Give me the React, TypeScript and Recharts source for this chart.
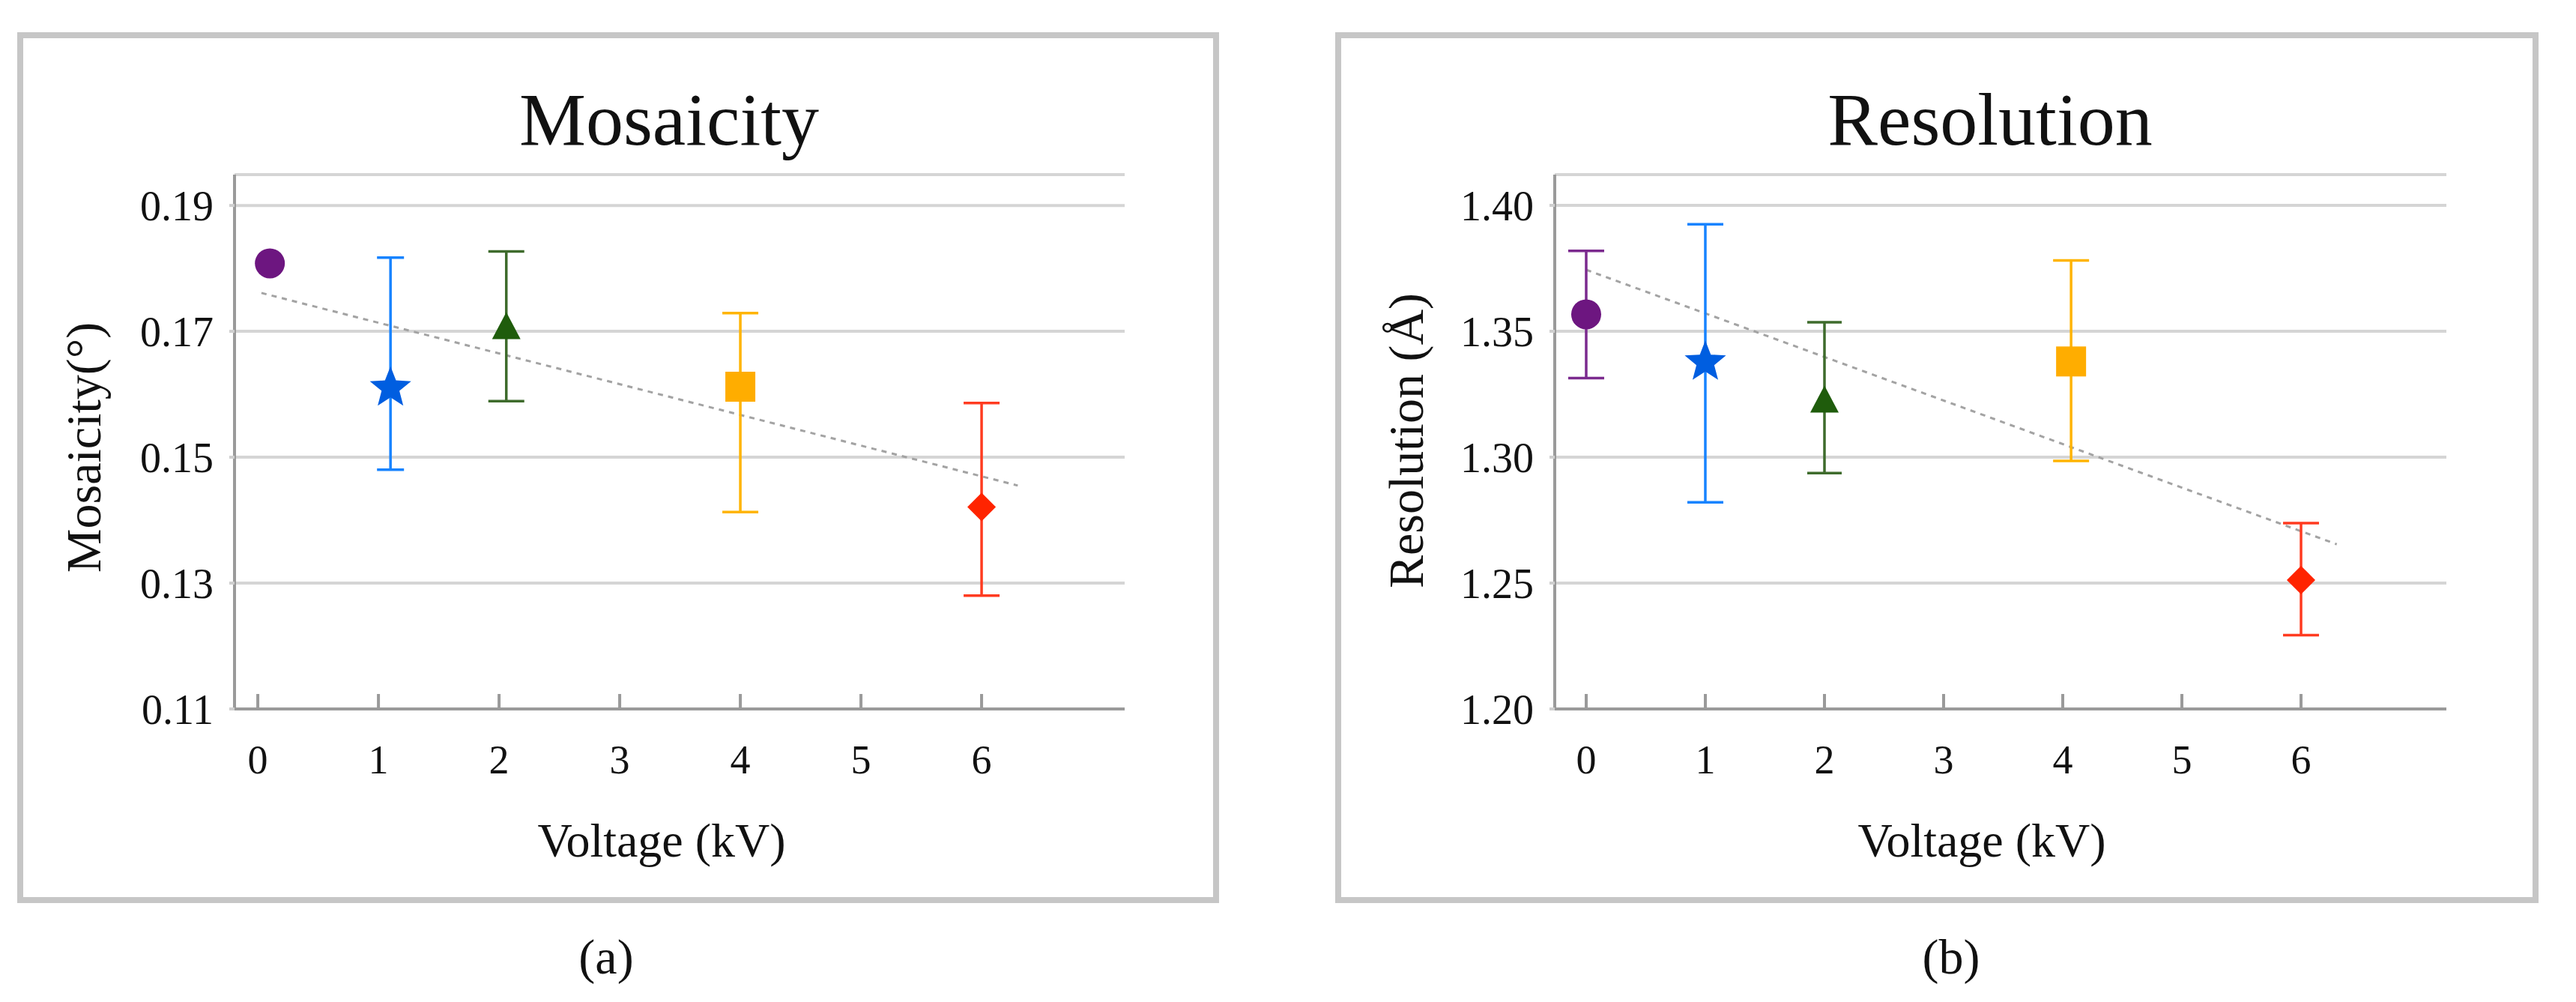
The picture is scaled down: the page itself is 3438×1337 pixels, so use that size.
import React from 'react';
import { ScatterChart, Scatter, XAxis, YAxis, CartesianGrid, ErrorBar, ReferenceLine } from 'recharts';

const FONT = "'Liberation Serif', 'Times New Roman', serif";

const voltageTicks = [0, 1, 2, 3, 4, 5, 6];

// (a) mosaicity, degrees
const mosaicityX = [0.1, 1.1, 2.06, 4, 6];
const mosaicityValues = [0.1808, 0.161, 0.1709, 0.1612, 0.1421];
const mosaicityLow = [null, 0.148, 0.1589, 0.1413, 0.128];
const mosaicityHigh = [null, 0.1817, 0.1827, 0.1729, 0.1586];
const mosaicityTicks = [0.11, 0.13, 0.15, 0.17, 0.19];
const mosaicityTrend = [
  { x: 0.03, y: 0.1761 },
  { x: 6.3, y: 0.1455 },
];

// (b) resolution, angstrom
const resolutionX = [0, 1, 2, 4.07, 6];
const resolutionValues = [1.3567, 1.3377, 1.3231, 1.338, 1.2512];
const resolutionLow = [1.3314, 1.2821, 1.2937, 1.2985, 1.2293];
const resolutionHigh = [1.3819, 1.3925, 1.3536, 1.3781, 1.2738];
const resolutionTicks = [1.2, 1.25, 1.3, 1.35, 1.4];
const resolutionTrend = [
  { x: 0, y: 1.3744 },
  { x: 6.3, y: 1.2654 },
];

const markers = [
  { kind: 'circle', fill: '#6d1680', bar: '#7b2a8e' },
  { kind: 'star', fill: '#005ee0', bar: '#1783ff' },
  { kind: 'triangle', fill: '#1f5c0c', bar: '#3e6b2c' },
  { kind: 'square', fill: '#ffad00', bar: '#ffb400' },
  { kind: 'diamond', fill: '#ff2400', bar: '#ff3b20' },
];

const starPath = (cx: number, cy: number, R: number, r: number) => {
  const pts: string[] = [];
  for (let i = 0; i < 10; i++) {
    const rad = i % 2 === 0 ? R : r;
    const a = -Math.PI / 2 + (i * Math.PI) / 5;
    pts.push(`${cx + rad * Math.cos(a)},${cy + rad * Math.sin(a)}`);
  }
  return pts.join(' ');
};

const makeShape = (kind: string, fill: string) => (props: any) => {
  const { cx, cy } = props;
  if (cx == null || cy == null) return <g />;
  switch (kind) {
    case 'circle':
      return <circle cx={cx} cy={cy} r={20} fill={fill} />;
    case 'star':
      return <polygon points={starPath(cx, cy, 29, 12.5)} fill={fill} />;
    case 'triangle':
      return <polygon points={`${cx},${cy - 18} ${cx + 19},${cy + 18} ${cx - 19},${cy + 18}`} fill={fill} />;
    case 'square':
      return <rect x={cx - 20} y={cy - 20} width={40} height={40} fill={fill} />;
    default:
      return <polygon points={`${cx},${cy - 19} ${cx + 19},${cy} ${cx},${cy + 19} ${cx - 19},${cy}`} fill={fill} />;
  }
};

const VoltageTick = (props: any) => {
  const { x, y, payload } = props;
  return (
    <g>
      <line x1={x} x2={x} y1={y} y2={y - 20} stroke="#9a9a9a" strokeWidth={4} />
      <text x={x} y={y + 86} textAnchor="middle" fontSize={54} fontFamily={FONT} fill="#111">
        {payload.value}
      </text>
    </g>
  );
};

interface PanelProps {
  left: number;
  width: number;
  yAxisWidth: number;
  marginRight: number;
  xs: number[];
  values: number[];
  lows: (number | null)[];
  highs: (number | null)[];
  ticks: number[];
  yDomain: [number, number];
  xDomain: [number, number];
  trend: { x: number; y: number }[];
  capWidths: number[];
}

const TOP = 43;
const HEIGHT = 1162;

const Panel: React.FC<PanelProps> = (p) => {
  return (
    <div style={{ position: 'absolute', left: p.left, top: TOP }}>
      <ScatterChart
        width={p.width}
        height={HEIGHT}
        margin={{ top: 190, right: p.marginRight, bottom: 0, left: 0 }}
      >
        <CartesianGrid vertical={false} stroke="#d5d5d5" strokeWidth={4} />
        <XAxis
          type="number"
          dataKey="x"
          domain={p.xDomain}
          ticks={voltageTicks}
          interval={0}
          allowDataOverflow
          height={HEIGHT - 190 - (946 - 233)}
          axisLine={{ stroke: '#9a9a9a', strokeWidth: 4 }}
          tickLine={false}
          tickSize={0}
          tickMargin={0}
          tick={<VoltageTick />}
        />
        <YAxis
          type="number"
          dataKey="y"
          domain={p.yDomain}
          ticks={p.ticks}
          interval={0}
          allowDataOverflow
          width={p.yAxisWidth}
          axisLine={{ stroke: '#9a9a9a', strokeWidth: 4 }}
          tickLine={{ stroke: '#cfcfcf', strokeWidth: 4 }}
          tickSize={7}
          tickMargin={21}
          tickFormatter={(v: number) => v.toFixed(2)}
          tick={{ fontSize: 56, fontFamily: FONT, fill: '#111' }}
        />
        <ReferenceLine
          segment={p.trend}
          stroke="#a3a3a3"
          strokeWidth={3}
          strokeDasharray="7 7"
          ifOverflow="visible"
        />
        {markers.map((m, i) => {
          const lo = p.lows[i];
          const hi = p.highs[i];
          const row = {
            x: p.xs[i],
            y: p.values[i],
            err: lo == null || hi == null ? null : [p.values[i] - lo, hi - p.values[i]],
          };
          return (
            <Scatter
              key={m.kind}
              data={[row]}
              fill={m.fill}
              shape={makeShape(m.kind, m.fill)}
              isAnimationActive={false}
            >
              {row.err && (
                <ErrorBar
                  dataKey="err"
                  direction="y"
                  width={p.capWidths[i]}
                  stroke={m.bar}
                  strokeWidth={3.5}
                  isAnimationActive={false}
                />
              )}
            </Scatter>
          );
        })}
      </ScatterChart>
    </div>
  );
};

const Frame = ({ x, w }: { x: number; w: number }) => (
  <rect x={x + 4} y={TOP + 4} width={w - 8} height={HEIGHT - 8} fill="none" stroke="#c6c6c6" strokeWidth={8} />
);

export default function App() {
  return (
    <div style={{ position: 'absolute', left: 0, top: 0, width: 3438, height: 1337, background: '#fff' }}>
      <svg width={3438} height={1337} style={{ position: 'absolute', left: 0, top: 0 }}>
        <Frame x={23} w={1604} />
        <Frame x={1782} w={1606} />
        <g fontFamily={FONT} fill="#111">
          <text x={893} y={193} fontSize={100} textAnchor="middle">Mosaicity</text>
          <text x={2656} y={193} fontSize={100} textAnchor="middle">Resolution</text>
          <text x={883} y={1143} fontSize={64} textAnchor="middle">Voltage (kV)</text>
          <text x={2645} y={1143} fontSize={64} textAnchor="middle">Voltage (kV)</text>
          <text
            x={111}
            y={597}
            fontSize={66}
            textAnchor="middle"
            dominantBaseline="central"
            transform="rotate(-90 111 597)"
          >
            Mosaicity(°)
          </text>
          <text
            x={1876}
            y={588}
            fontSize={66}
            textAnchor="middle"
            dominantBaseline="central"
            transform="rotate(-90 1876 588)"
          >
            Resolution (Å)
          </text>
          <text x={809} y={1276} fontSize={66} textAnchor="middle" dominantBaseline="central">(a)</text>
          <text x={2604} y={1276} fontSize={66} textAnchor="middle" dominantBaseline="central">(b)</text>
        </g>
      </svg>
      <Panel
        left={23}
        width={1604}
        yAxisWidth={290}
        marginRight={126}
        xs={mosaicityX}
        values={mosaicityValues}
        lows={mosaicityLow}
        highs={mosaicityHigh}
        ticks={mosaicityTicks}
        yDomain={[0.11, 0.1949]}
        xDomain={[-0.193, 7.186]}
        trend={mosaicityTrend}
        capWidths={[24, 18, 24, 24, 24]}
      />
      <Panel
        left={1782}
        width={1606}
        yAxisWidth={293}
        marginRight={123}
        xs={resolutionX}
        values={resolutionValues}
        lows={resolutionLow}
        highs={resolutionHigh}
        ticks={resolutionTicks}
        yDomain={[1.2, 1.4122]}
        xDomain={[-0.264, 7.22]}
        trend={resolutionTrend}
        capWidths={[24, 24, 23, 24, 24]}
      />
    </div>
  );
}
